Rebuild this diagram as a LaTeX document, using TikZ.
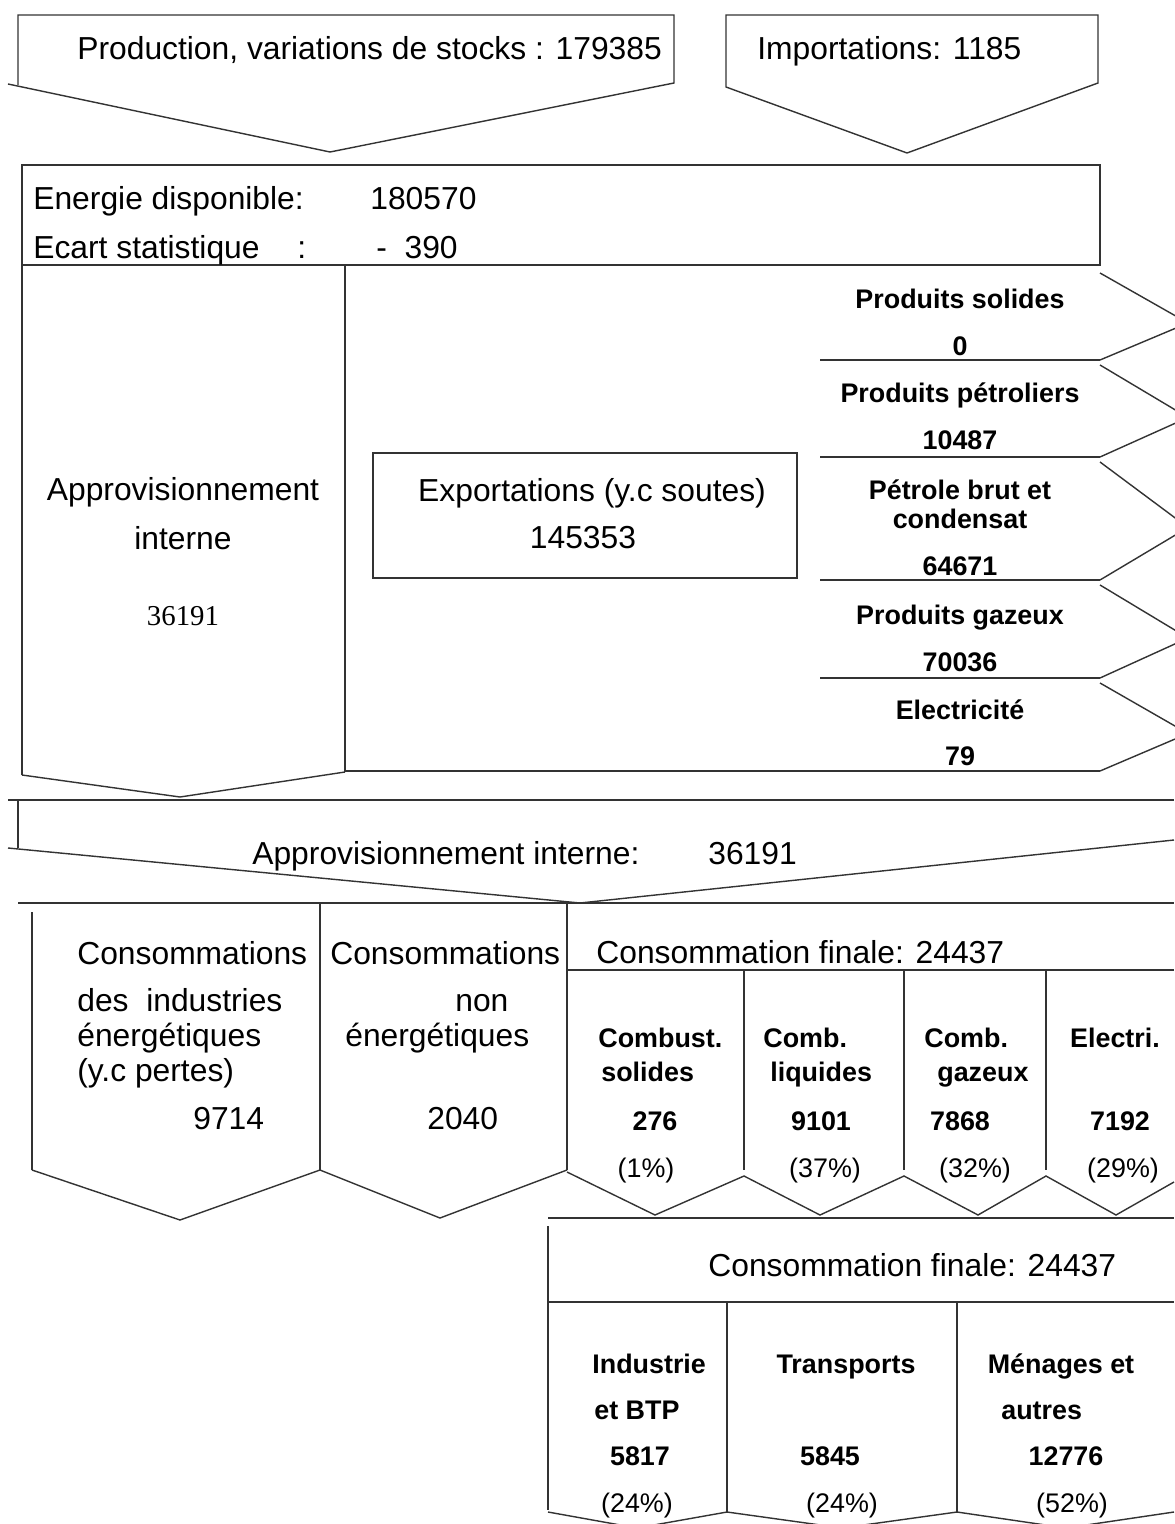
\documentclass[tikz,border=0pt]{standalone}
\usepackage{fontspec}
\setmainfont{Liberation Sans}
\newfontfamily\serifnum{Liberation Serif}
\usetikzlibrary{positioning}
\definecolor{lineGrey}{HTML}{333333}

\begin{document}
\begin{tikzpicture}[x=0.02cm,y=-0.02cm,
  box/.style={draw=lineGrey,line width=1pt},
  arr/.style={draw=lineGrey,line width=0.8pt},
  big/.style={font=\fontsize{18.1}{22}\selectfont,inner sep=0pt},
  pct/.style={font=\fontsize{15.3}{18}\selectfont,inner sep=0pt},
  small/.style={font=\fontsize{15.3}{18}\selectfont\bfseries,inner sep=0pt}]
  \useasboundingbox[fill=white] (0,0) rectangle (1174,1524);

  % top arrows
  \draw[arr] (18,85) -- (18,15) -- (674,15) -- (674,83) -- (330,152) -- (8,84);
  \draw[arr] (726,87) -- (726,15) -- (1098,15) -- (1098,83) -- (907,153) -- cycle;
  \node[big,anchor=base west] (prod) at (77,60) {Production, variations de stocks : 179385};
  \node[big,anchor=base west] (imp) at (757,60) {Importations: 1185};

  % energie disponible
  \draw[box] (22,165) rectangle (1100,265);
  \node[big,anchor=base west] (dispo) at (33,210) {Energie disponible:};
  \node[big,anchor=base west] (dispoval) at (370,210) {180570};
  \node[big,anchor=base west] (ecart) at (33,258) {Ecart statistique};
  \node[big,anchor=base west] (ecartsep) at (297,258) {:};
  \node[big,anchor=base west] (ecartval) at (376,258) {-\ \ 390};

  % approvisionnement / exportations
  \draw[box] (22,265) -- (22,775);
  \draw[arr] (22,775) -- (180,797) -- (345,772);
  \draw[box] (345,265) -- (345,771) -- (1100,771);
  \foreach \y in {360,457,580,678}
    \draw[box] (820,\y) -- (1100,\y);
  \foreach \t/\b in {270/360,362/457,459/580,582/678,680/771}
    \draw[arr] (1100,\t+3) -- (1188,{(\t+\b)/2+8}) -- (1100,\b);
  \node[big,anchor=base] (appro) at (183,500) {Approvisionnement};
  \node[big,anchor=base] (approb) at (183,549) {interne};
  \node[font=\serifnum\fontsize{16.4}{20}\selectfont,inner sep=0pt,anchor=base] (approval) at (183,625) {36191};
  \draw[box] (373,453) rectangle (797,578);
  \node[big,anchor=base] (export) at (592,501) {Exportations (y.c soutes)};
  \node[big,anchor=base] (exportval) at (583,548) {145353};
  \node[small,anchor=base] (solid) at (960,308) {Produits solides};
  \node[small,anchor=base] (solidval) at (960,355) {0};
  \node[small,anchor=base] (petro) at (960,402) {Produits pétroliers};
  \node[small,anchor=base] (petroval) at (960,449) {10487};
  \node[small,anchor=base] (brut) at (960,499) {Pétrole brut et};
  \node[small,anchor=base] (brutb) at (960,528) {condensat};
  \node[small,anchor=base] (brutval) at (960,575) {64671};
  \node[small,anchor=base] (gaz) at (960,624) {Produits gazeux};
  \node[small,anchor=base] (gazval) at (960,671) {70036};
  \node[small,anchor=base] (elec) at (960,719) {Electricité};
  \node[small,anchor=base] (elecval) at (960,765) {79};

  % approvisionnement interne arrow
  \draw[arr] (8,800) -- (1174,800);
  \draw[arr] (18,800) -- (18,848);
  \draw[arr] (8,848) -- (580,903) -- (1174,840);
  \draw[line width=1.4pt,lineGrey] (18,903) -- (1174,903);
  \node[big,anchor=base west] (interne) at (252,864) {Approvisionnement interne:};
  \node[big,anchor=base west] (interneval) at (708,864) {36191};

  % consommations
  \draw[box] (32,912) -- (32,1170);
  \draw[arr] (32,1170) -- (180,1220) -- (320,1170) -- (440,1218) -- (567,1170);
  \draw[box] (320,903) -- (320,1170);
  \draw[box] (567,903) -- (567,1170);
  \draw[box] (567,970) -- (1174,970);
  \foreach \x in {744,904,1046}
    \draw[box] (\x,970) -- (\x,1170);
  \draw[arr] (567,1172) -- (655,1215) -- (744,1176) -- (820,1215) -- (904,1176)
    -- (978,1215) -- (1046,1176) -- (1116,1215) -- (1174,1182);
  \node[big,anchor=base west] (indus) at (77,964) {Consommations};
  \node[big,anchor=base west] (indusb) at (77,1011) {des\ \ industries};
  \node[big,anchor=base west] (indusc) at (77,1046) {énergétiques};
  \node[big,anchor=base west] (indusd) at (77,1081) {(y.c pertes)};
  \node[big,anchor=base west] (indusval) at (193,1129) {9714};
  \node[big,anchor=base west] (nonen) at (330,964) {Consommations};
  \node[big,anchor=base west] (nonenb) at (455,1011) {non};
  \node[big,anchor=base west] (nonenc) at (345,1046) {énergétiques};
  \node[big,anchor=base west] (nonenval) at (427,1129) {2040};
  \node[big,anchor=base west] (finale) at (596,963) {Consommation finale: 24437};
  \node[small,anchor=base west] (csol) at (598,1047) {Combust.};
  \node[small,anchor=base west] (csolb) at (601,1081) {solides};
  \node[small,anchor=base] (csolval) at (655,1130) {276};
  \node[pct,anchor=base] (csolpct) at (646,1177) {(1\%)};
  \node[small,anchor=base west] (cliq) at (763,1047) {Comb.};
  \node[small,anchor=base west] (cliqb) at (770,1081) {liquides};
  \node[small,anchor=base] (cliqval) at (821,1130) {9101};
  \node[pct,anchor=base] (cliqpct) at (825,1177) {(37\%)};
  \node[small,anchor=base west] (cgaz) at (924,1047) {Comb.};
  \node[small,anchor=base west] (cgazb) at (937,1081) {gazeux};
  \node[small,anchor=base] (cgazval) at (960,1130) {7868};
  \node[pct,anchor=base] (cgazpct) at (975,1177) {(32\%)};
  \node[small,anchor=base] (celec) at (1115,1047) {Electri.};
  \node[small,anchor=base] (celecval) at (1120,1130) {7192};
  \node[pct,anchor=base] (celecpct) at (1123,1177) {(29\%)};

  % consommation finale par secteur
  \draw[box] (548,1218) -- (1174,1218);
  \draw[box] (548,1226) -- (548,1510);
  \draw[box] (548,1302) -- (1174,1302);
  \draw[box] (727,1302) -- (727,1512);
  \draw[box] (957,1302) -- (957,1512);
  \draw[arr] (548,1512) -- (637,1528) -- (727,1512) -- (842,1528) -- (957,1512) -- (1066,1528) -- (1174,1512);
  \node[big,anchor=base west] (secteur) at (708,1276) {Consommation finale: 24437};
  \node[small,anchor=base west] (btp) at (592,1373) {Industrie};
  \node[small,anchor=base west] (btpb) at (594,1419) {et BTP};
  \node[small,anchor=base] (btpval) at (640,1465) {5817};
  \node[pct,anchor=base] (btppct) at (637,1512) {(24\%)};
  \node[small,anchor=base] (transp) at (846,1373) {Transports};
  \node[small,anchor=base] (transpval) at (830,1465) {5845};
  \node[pct,anchor=base] (transppct) at (842,1512) {(24\%)};
  \node[small,anchor=base] (menage) at (1061,1373) {Ménages et};
  \node[small,anchor=base west] (menageb) at (1001,1419) {autres};
  \node[small,anchor=base] (menageval) at (1066,1465) {12776};
  \node[pct,anchor=base] (menagepct) at (1072,1512) {(52\%)};
\end{tikzpicture}
\end{document}
